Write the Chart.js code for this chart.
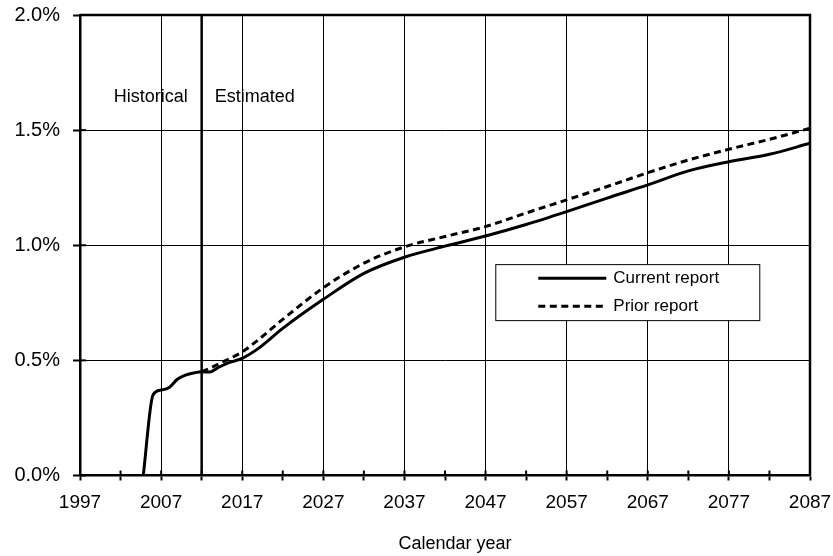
<!DOCTYPE html>
<html>
<head>
<meta charset="utf-8">
<script src="https://cdn.jsdelivr.net/npm/chart.js@4.4.0/dist/chart.umd.min.js"></script>
<style>
  html, body { margin: 0; padding: 0; background: #fff; }
  #wrap { width: 833px; height: 556px; }
</style>
</head>
<body>
<div id="wrap"><canvas id="c" width="833" height="556"></canvas></div>
<script>
// ---- Data (percent of GDP) ----
const currentYears = [2004.8, 2006, 2007, 2008, 2009, 2010, 2011, 2012, 2013, 2014, 2015, 2016, 2017, 2019, 2022, 2027, 2032, 2037, 2042, 2047, 2052, 2057, 2062, 2067, 2072, 2077, 2082, 2087];
const currentValues = [0, 0.35, 0.371, 0.382, 0.418, 0.436, 0.445, 0.451, 0.449, 0.468, 0.485, 0.497, 0.509, 0.552, 0.639, 0.765, 0.878, 0.948, 0.996, 1.040, 1.090, 1.146, 1.205, 1.262, 1.323, 1.363, 1.395, 1.443];
const priorYears = [2012, 2013, 2015, 2017, 2019, 2022, 2027, 2032, 2037, 2042, 2047, 2052, 2057, 2062, 2067, 2072, 2077, 2082, 2087];
const priorValues = [0.450, 0.466, 0.500, 0.537, 0.590, 0.678, 0.815, 0.922, 0.993, 1.038, 1.081, 1.140, 1.197, 1.255, 1.315, 1.370, 1.417, 1.460, 1.508];
const seriesLabels = ['Current report', 'Prior report'];
const yTicks = [0, 0.5, 1.0, 1.5, 2.0];
const xMin = 1997, xMax = 2087, xMajorStep = 10, xMinorStep = 5;
const splitYear = 2012;
const periodLabels = ['Historical', 'Estimated'];
const periodLabelValue = 1.645;
const xTitle = 'Calendar year';

const FONT = "Arial, 'Liberation Sans', Helvetica, sans-serif";

const toPts = (xs, ys) => xs.map((x, i) => ({ x: x, y: ys[i] }));

const overlay = {
  id: 'overlay',
  afterDraw(chart) {
    const { ctx, chartArea: a, scales: { x, y } } = chart;
    ctx.save();
    // inner halves of tick marks
    ctx.strokeStyle = '#000';
    ctx.lineWidth = 2;
    for (let v = xMin; v <= xMax; v += xMinorStep) {
      const px = x.getPixelForValue(v);
      ctx.beginPath(); ctx.moveTo(px, a.bottom); ctx.lineTo(px, a.bottom - 5); ctx.stroke();
    }
    yTicks.forEach(v => {
      const py = y.getPixelForValue(v);
      ctx.beginPath(); ctx.moveTo(a.left, py); ctx.lineTo(a.left + 6, py); ctx.stroke();
    });
    // frame (top / right)
    ctx.lineWidth = 2.5;
    ctx.beginPath();
    ctx.moveTo(a.left, a.top); ctx.lineTo(a.right, a.top); ctx.lineTo(a.right, a.bottom);
    ctx.stroke();
    // split line
    const sx = x.getPixelForValue(splitYear);
    ctx.beginPath(); ctx.moveTo(sx, a.top); ctx.lineTo(sx, a.bottom); ctx.stroke();
    // period labels
    ctx.fillStyle = '#000';
    ctx.font = '18px ' + FONT;
    ctx.textBaseline = 'middle';
    const ly = y.getPixelForValue(periodLabelValue);
    ctx.textAlign = 'right';
    ctx.fillText(periodLabels[0], sx - 14, ly);
    ctx.textAlign = 'left';
    ctx.fillText(periodLabels[1], sx + 13, ly);
    // axis title
    ctx.textAlign = 'center';
    ctx.font = '18px ' + FONT;
    ctx.fillText(xTitle, (a.left + a.right) / 2 + 10, 544.5);
    // legend
    const bx = x.getPixelForValue(2048.2), bw = 264;
    const by = y.getPixelForValue(0.918), bh = 56;
    ctx.fillStyle = '#fff';
    ctx.fillRect(bx, by, bw, bh);
    ctx.lineWidth = 1;
    ctx.strokeStyle = '#000';
    ctx.strokeRect(bx + 0.5, by + 0.5, bw, bh);
    chart.data.datasets.forEach((ds, i) => {
      const rowY = by + 14 + i * 28;
      ctx.lineWidth = 3;
      ctx.setLineDash(ds.borderDash || []);
      ctx.beginPath(); ctx.moveTo(bx + 43, rowY); ctx.lineTo(bx + 111, rowY); ctx.stroke();
      ctx.setLineDash([]);
      ctx.fillStyle = '#000';
      ctx.font = '17px ' + FONT;
      ctx.textAlign = 'left';
      ctx.textBaseline = 'middle';
      ctx.fillText(ds.label, bx + 118, rowY);
    });
    ctx.restore();
  }
};

new Chart(document.getElementById('c'), {
  type: 'line',
  data: {
    datasets: [
      { label: seriesLabels[0], data: toPts(currentYears, currentValues), borderColor: '#000', borderWidth: 3, pointRadius: 0, cubicInterpolationMode: 'monotone', fill: false },
      { label: seriesLabels[1], data: toPts(priorYears, priorValues), borderColor: '#000', borderWidth: 3, borderDash: [7, 4.5], pointRadius: 0, cubicInterpolationMode: 'monotone', fill: false }
    ]
  },
  options: {
    responsive: false,
    animation: false,
    devicePixelRatio: 1,
    layout: { padding: { top: 15, right: 23, left: 0, bottom: 0 } },
    plugins: { legend: { display: false }, tooltip: { enabled: false } },
    scales: {
      x: {
        type: 'linear', min: xMin, max: xMax,
        afterFit: s => { s.height = 80.5; s.paddingLeft = 0; s.paddingRight = 0; },
        ticks: {
          stepSize: xMinorStep, autoSkip: false, maxRotation: 0, color: '#000', padding: 11,
          font: { family: FONT, size: 19 },
          callback: v => ((v - xMin) % xMajorStep === 0 ? String(v) : '')
        },
        grid: {
          color: c => { const v = c.tick && c.tick.value; return (v !== undefined && (v - xMin) % xMajorStep === 0 && v !== xMin && v !== xMax) ? '#000' : 'rgba(0,0,0,0)'; },
          tickColor: '#000', tickWidth: 2, tickLength: 5, lineWidth: 1
        },
        border: { color: '#000', width: 2.5 }
      },
      y: {
        min: 0, max: 2,
        afterFit: s => { s.width = 80; s.paddingTop = 0; s.paddingBottom = 0; },
        afterBuildTicks: s => { s.ticks = yTicks.map(v => ({ value: v })); },
        ticks: {
          color: '#000', padding: 13,
          font: { family: FONT, size: 20 },
          callback: v => v.toFixed(1) + '%'
        },
        grid: { color: c => (c.tick && (c.tick.value === 0 || c.tick.value === 2)) ? 'rgba(0,0,0,0)' : '#000', tickColor: '#000', tickWidth: 2, tickLength: 7, lineWidth: 1 },
        border: { color: '#000', width: 2.5 }
      }
    }
  },
  plugins: [overlay]
});
</script>
</body>
</html>
